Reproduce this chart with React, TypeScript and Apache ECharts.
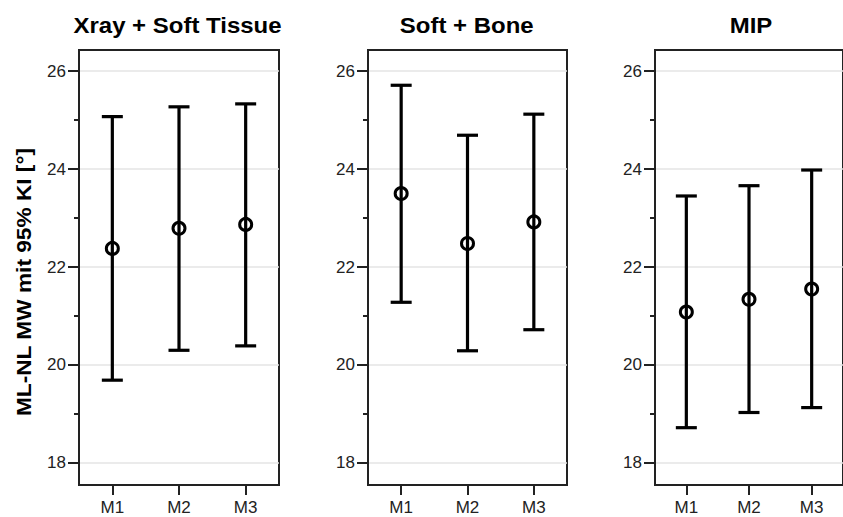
import React, { useEffect, useRef } from "react";
import * as echarts from "echarts";

const categories = ["M1", "M2", "M3"];
const panelTitles = ["Xray + Soft Tissue", "Soft + Bone", "MIP"];
const yAxisTitle = "ML-NL MW mit 95% KI [°]";

const xrayMean = [22.38, 22.79, 22.87];
const xrayLow = [19.69, 20.3, 20.39];
const xrayHigh = [25.07, 25.27, 25.33];

const softBoneMean = [23.5, 22.48, 22.92];
const softBoneLow = [21.28, 20.29, 20.72];
const softBoneHigh = [25.71, 24.69, 25.12];

const mipMean = [21.08, 21.34, 21.55];
const mipLow = [18.72, 19.03, 19.13];
const mipHigh = [23.45, 23.66, 23.98];

const yTicks = [18, 20, 22, 24, 26];
const yMinorTicks = [19, 21, 23, 25];
const yMin = 17.55;
const yMax = 26.43;

const panels = [
  { mean: xrayMean, low: xrayLow, high: xrayHigh },
  { mean: softBoneMean, low: softBoneLow, high: softBoneHigh },
  { mean: mipMean, low: mipLow, high: mipHigh },
];

const FONT = "'Liberation Sans', Arial, Helvetica, sans-serif";
const gridPos = [
  { left: 79, width: 200 },
  { left: 368, width: 199 },
  { left: 655, width: 198 },
];
const titleX = [177.5, 466.7, 751];

export default function App() {
  const ref = useRef<HTMLDivElement>(null);

  useEffect(() => {
    document.body.style.margin = "0";
    if (!ref.current) return;
    const chart = echarts.init(ref.current, null, { renderer: "svg" });

    const grids: any[] = [];
    const xAxes: any[] = [];
    const yAxes: any[] = [];
    const series: any[] = [];

    panels.forEach((p, i) => {
      grids.push({
        left: gridPos[i].left,
        width: gridPos[i].width,
        top: 50,
        height: 435,
        show: true,
        borderColor: "#222",
        borderWidth: 2,
        backgroundColor: "transparent",
      });
      xAxes.push({
        type: "category",
        gridIndex: i,
        data: categories,
        boundaryGap: true,
        axisLine: { show: true, lineStyle: { color: "#222", width: 2 } },
        axisTick: { show: true, alignWithLabel: true, length: 10, lineStyle: { color: "#222", width: 2 } },
        axisLabel: { color: "#222", fontSize: 17, fontFamily: FONT, margin: 14 },
        splitLine: { show: false },
      });
      yAxes.push({
        type: "value",
        gridIndex: i,
        position: "left",
        min: yMin,
        max: yMax,
        axisLine: { show: true, lineStyle: { color: "#222", width: 2 } },
        axisTick: { show: true, length: 11, customValues: yTicks, lineStyle: { color: "#222", width: 2 } },
        axisLabel: { color: "#222", fontSize: 17, fontFamily: FONT, margin: 13, customValues: yTicks },
        splitLine: { show: true, lineStyle: { color: "#e4e4e4", width: 1.5 } },
      });
      yAxes.push({
        type: "value",
        gridIndex: i,
        position: "left",
        min: yMin,
        max: yMax,
        axisLine: { show: false },
        axisTick: { show: true, length: 5, customValues: yMinorTicks, lineStyle: { color: "#222", width: 2 } },
        axisLabel: { show: false },
        splitLine: { show: false },
      });

      const barData = categories.map((_, k) => [k, p.low[k], p.high[k]]);
      series.push({
        type: "custom",
        xAxisIndex: i,
        yAxisIndex: i * 2,
        data: barData,
        encode: { x: 0, y: [1, 2] },
        renderItem: (params: any, api: any) => {
          const x = api.value(0);
          const lo = api.coord([x, api.value(1)]);
          const hi = api.coord([x, api.value(2)]);
          const half = 10.5;
          const style = { stroke: "#000", lineWidth: 3.2 };
          return {
            type: "group",
            children: [
              { type: "line", shape: { x1: lo[0], y1: lo[1], x2: hi[0], y2: hi[1] }, style },
              { type: "line", shape: { x1: hi[0] - half, y1: hi[1], x2: hi[0] + half, y2: hi[1] }, style },
              { type: "line", shape: { x1: lo[0] - half, y1: lo[1], x2: lo[0] + half, y2: lo[1] }, style },
            ],
          };
        },
        silent: true,
        z: 3,
      });
      series.push({
        type: "scatter",
        xAxisIndex: i,
        yAxisIndex: i * 2,
        data: p.mean,
        symbol: "circle",
        symbolSize: 12,
        itemStyle: { color: "rgba(0,0,0,0)", borderColor: "#000", borderWidth: 3, opacity: 1 },
        silent: true,
        z: 4,
      });
    });

    const graphics: any[] = panelTitles.map((t, i) => ({
      type: "text",
      x: titleX[i],
      y: 25,
      scaleX: 1.09,
      style: {
        text: t,
        fontSize: 22,
        fontWeight: "bold",
        fontFamily: FONT,
        fill: "#000",
        align: "center",
        verticalAlign: "middle",
      },
    }));
    graphics.push({
      type: "text",
      x: 24,
      y: 282,
      rotation: Math.PI / 2,
      scaleX: 1.08,
      style: {
        text: yAxisTitle,
        fontSize: 21,
        fontWeight: "bold",
        fontFamily: FONT,
        fill: "#000",
        align: "center",
        verticalAlign: "middle",
      },
    });

    chart.setOption({
      animation: false,
      backgroundColor: "#fff",
      grid: grids,
      xAxis: xAxes,
      yAxis: yAxes,
      series,
      graphic: graphics,
    });

    return () => chart.dispose();
  }, []);

  return <div ref={ref} style={{ width: 843, height: 517 }} />;
}
